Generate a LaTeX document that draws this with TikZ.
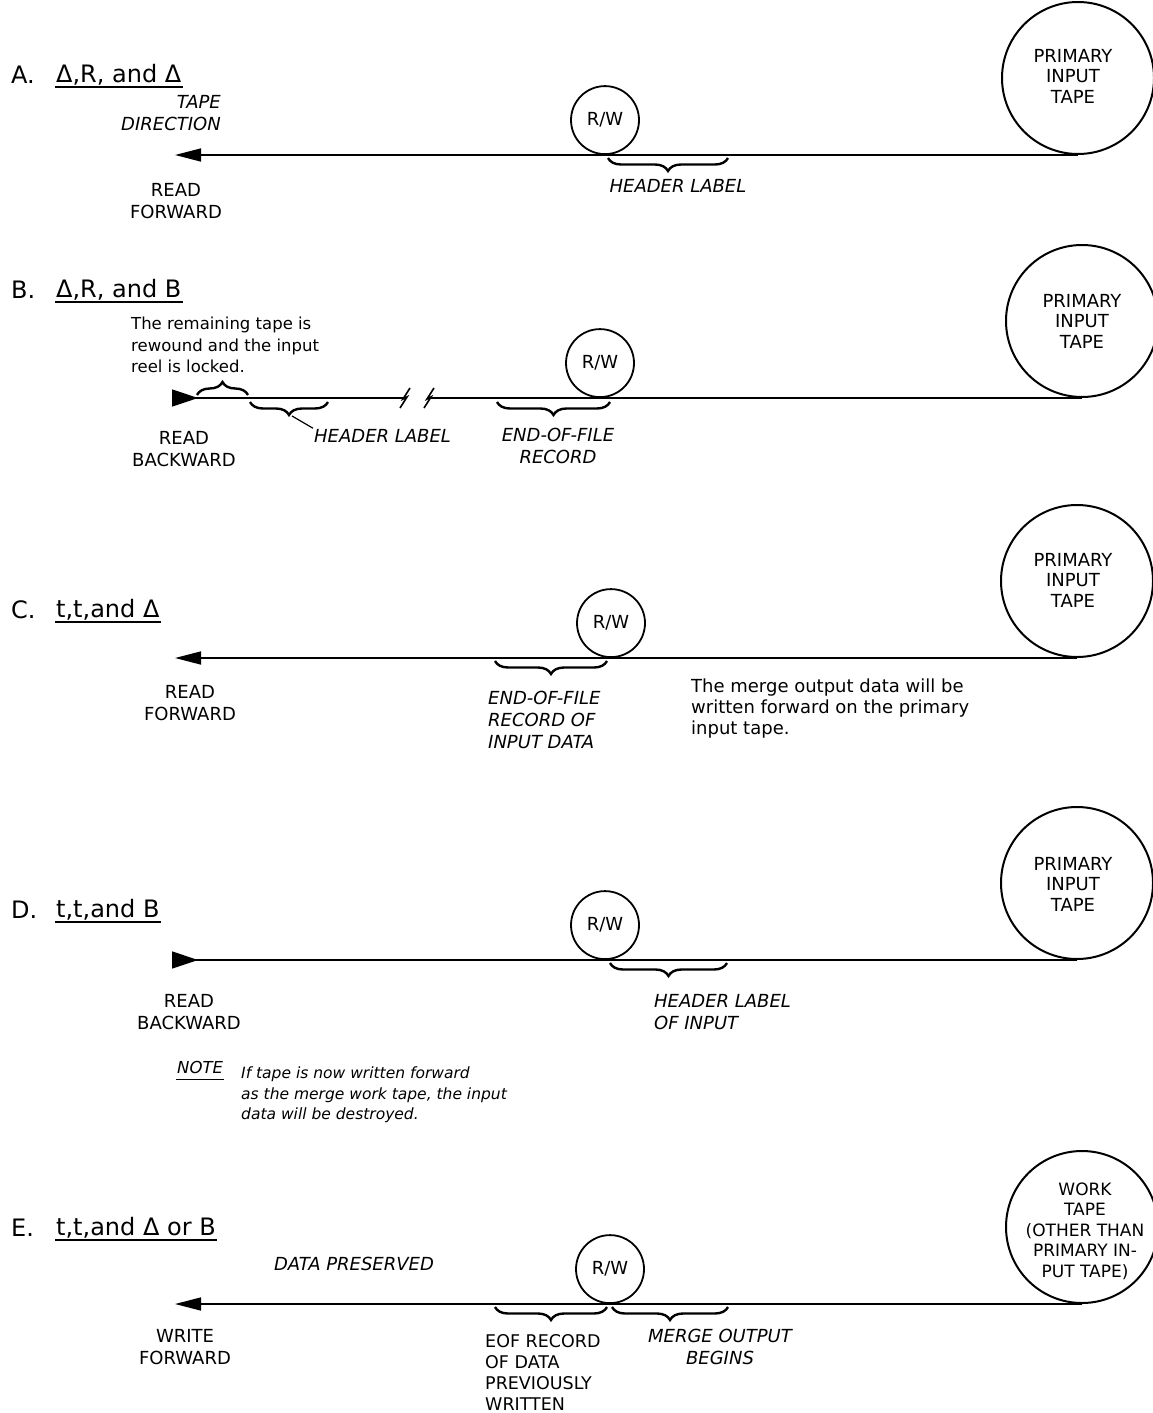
\documentclass[tikz,border=0pt]{standalone}
\usepackage{fontspec}
\setmainfont{DejaVu Sans}
\usetikzlibrary{arrows.meta,decorations.pathreplacing}
\newcommand\lblfont{\fontsize{18}{22}\selectfont}
\newcommand\reelfont{\fontsize{17}{20.5}\selectfont}
\newcommand\txtfont{\fontsize{18}{21}\selectfont}
\newcommand\smlfont{\fontsize{16.5}{21.5}\selectfont}
\newcommand\notefont{\fontsize{15.5}{20.5}\selectfont}
\newcommand\ttlfont{\fontsize{24}{28}\selectfont}

\begin{document}
\begin{tikzpicture}
  [x=1pt,y=-1pt,
   tape/.style={line width=1.5pt},
   fwd/.style={-{Triangle[length=26pt,width=13pt]}},
   bwd/.style={-{Triangle[reversed,length=26pt,width=17pt]}},
   rw/.style={circle,draw,line width=1.8pt,minimum size=68pt,inner sep=0pt,font=\lblfont},
   reel/.style={circle,draw,line width=2pt,minimum size=152pt,inner sep=0pt},
   reeltext/.style={font=\fontsize{18}{20.5}\selectfont,align=center,inner sep=0pt},
   lbl/.style={font=\lblfont,align=center,inner sep=1pt},
   ilbl/.style={font=\lblfont\itshape,align=center,inner sep=1pt},
   txt/.style={font=\txtfont,align=left,inner sep=1pt,anchor=west},
   ttl/.style={font=\ttlfont,inner sep=1pt,anchor=west},
   uline/.style={line width=2pt},
   brc/.style={decorate,decoration={brace,mirror,amplitude=13pt},line width=2.4pt},
   tapebreak/.pic={\draw[line width=1.6pt] (-5,10) -- (2,-1) -- (-2,1) -- (5,-10);}]
  \path[use as bounding box,fill=white] (0,0) rectangle (1152,1413);

  % A
  \node[ttl] (tA) at (10,75) {A.};
  \node[ttl] (hA) at (55,75) {Δ,R, and Δ};
  \draw[uline] (hA.south west) -- (hA.south east);
  \node[reel,anchor=south] (reelA) at (1078,155) {};
  \node[reeltext] (ptA) at (1073,76) {PRIMARY\\INPUT\\TAPE};
  \node[rw,anchor=south] (rwA) at (605,155) {R/W};
  \coordinate (endA) at (175,155);
  \draw[tape,fwd] (reelA.south) -- (endA);
  \node[ilbl,anchor=east,align=right] (dirA) at (222,113) {TAPE\\DIRECTION};
  \node[lbl] (rdA) at (176,201) {READ\\FORWARD};
  \draw[brc] (608,158) -- (728,158);
  \node[ilbl] (hlA) at (678,186) {HEADER LABEL};

  % B
  \node[ttl] (tB) at (10,290) {B.};
  \node[ttl] (hB) at (55,290) {Δ,R, and B};
  \draw[uline] (hB.south west) -- (hB.south east);
  \node[txt,font=\smlfont] (remB) at (130,345) {The remaining tape is\\rewound and the input\\reel is locked.};
  \node[reel,anchor=south] (reelB) at (1082,398) {};
  \node[reeltext] (ptB) at (reelB.center) {PRIMARY\\INPUT\\TAPE};
  \node[rw,anchor=south] (rwB) at (600,398) {R/W};
  \coordinate (endB) at (172,398);
  \coordinate (brk1) at (405,398);
  \coordinate (brk2) at (429,398);
  \draw[tape] (reelB.south) -- (brk2);
  \draw[tape,bwd] (brk1) -- (endB);
  \pic at (brk1) {tapebreak};
  \pic at (brk2) {tapebreak};
  \draw[brc] (248,395) -- (197,395);
  \draw[brc] (250,402) -- (328,402);
  \coordinate (tipB) at (292,416);
  \node[ilbl,anchor=west] (hlB) at (313,436) {HEADER LABEL};
  \draw[line width=1.2pt] (tipB) -- (hlB.north west);
  \draw[brc] (497,402) -- (610,402);
  \node[ilbl] (eofB) at (558,446) {END-OF-FILE\\RECORD};
  \node[lbl] (rdB) at (184,449) {READ\\BACKWARD};

  % C
  \node[ttl] (tC) at (10,610) {C.};
  \node[ttl] (hC) at (55,610) {t,t,and Δ};
  \draw[uline] (hC.south west) -- (hC.south east);
  \node[reel,anchor=south] (reelC) at (1077,658) {};
  \node[reeltext] (ptC) at (1073,580) {PRIMARY\\INPUT\\TAPE};
  \node[rw,anchor=south] (rwC) at (611,658) {R/W};
  \coordinate (endC) at (175,658);
  \draw[tape,fwd] (reelC.south) -- (endC);
  \draw[brc] (495,661) -- (607,661);
  \node[ilbl,align=left,anchor=west] (eofC) at (487,720) {END-OF-FILE\\RECORD OF\\INPUT DATA};
  \node[txt] (mrgC) at (690,709) {The merge output data will be\\written forward on the primary\\input tape.};
  \node[lbl] (rdC) at (190,703) {READ\\FORWARD};

  % D
  \node[ttl] (tD) at (10,910) {D.};
  \node[ttl] (hD) at (55,910) {t,t,and B};
  \draw[uline] (hD.south west) -- (hD.south east);
  \node[reel,anchor=south] (reelD) at (1077,960) {};
  \node[reeltext] (ptD) at (1073,884) {PRIMARY\\INPUT\\TAPE};
  \node[rw,anchor=south] (rwD) at (605,960) {R/W};
  \coordinate (endD) at (172,960);
  \draw[tape,bwd] (reelD.south) -- (endD);
  \draw[brc] (610,963) -- (727,963);
  \node[ilbl,align=left,anchor=west] (hlD) at (653,1012) {HEADER LABEL\\OF INPUT};
  \node[lbl] (rdD) at (189,1012) {READ\\BACKWARD};

  % note
  \node[ilbl,font=\smlfont\itshape,anchor=west] (note) at (176,1067) {NOTE};
  \draw[uline,line width=1.5pt] ([yshift=-5pt]note.south west) -- ([yshift=-5pt]note.south east);
  \node[txt,font=\notefont\itshape] (noteT) at (240,1095) {If tape is now written forward\\as the merge work tape, the input\\data will be destroyed.};

  % E
  \node[ttl] (tE) at (10,1228) {E.};
  \node[ttl] (hE) at (55,1228) {t,t,and Δ or B};
  \draw[uline] (hE.south west) -- (hE.south east);
  \node[reel,anchor=south] (reelE) at (1082,1304) {};
  \node[reeltext,font=\reelfont] (ptE) at (1085,1231) {WORK\\TAPE\\(OTHER THAN\\PRIMARY IN-\\PUT TAPE)};
  \node[rw,anchor=south] (rwE) at (610,1304) {R/W};
  \coordinate (endE) at (175,1304);
  \draw[tape,fwd] (reelE.south) -- (endE);
  \node[ilbl] (presE) at (354,1264) {DATA PRESERVED};
  \draw[brc] (495,1307) -- (607,1307);
  \draw[brc] (612,1307) -- (728,1307);
  \node[lbl,align=left,anchor=west,font=\fontsize{17.5}{21}\selectfont] (eofE) at (484,1372) {EOF RECORD\\OF DATA\\PREVIOUSLY\\WRITTEN};
  \node[ilbl] (mrgE) at (720,1347) {MERGE OUTPUT\\BEGINS};
  \node[lbl] (wrE) at (185,1347) {WRITE\\FORWARD};
\end{tikzpicture}
\end{document}
